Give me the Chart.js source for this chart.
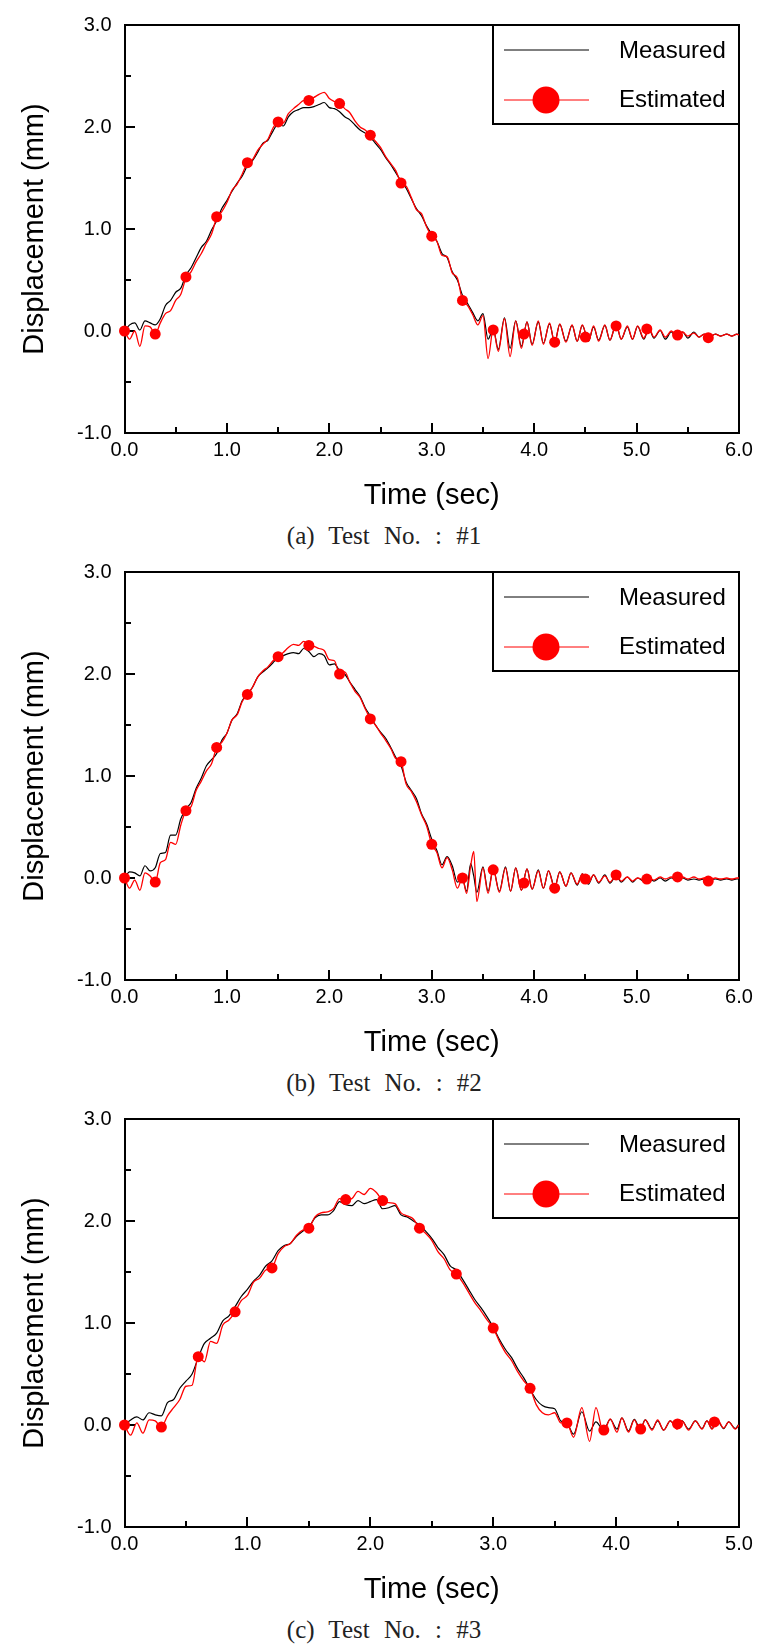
<!DOCTYPE html>
<html>
<head>
<meta charset="utf-8">
<script src="https://cdn.jsdelivr.net/npm/chart.js@4.4.1/dist/chart.umd.min.js"></script>
<style>
  html, body { margin: 0; padding: 0; background: #fff; }
  body { width: 779px; height: 1646px; position: relative; overflow: hidden; }
  .panel { position: absolute; left: 0; width: 779px; height: 547px; }
  .panel canvas { position: absolute; left: 0; top: 0; }
  .caption { position: absolute; left: 0; width: 768px; top: 523px; height: 26px; line-height: 26px;
             text-align: center; font-family: 'Liberation Serif', 'DejaVu Serif', serif; font-size: 25px;
             color: #222; word-spacing: 8px; white-space: pre; }
</style>
</head>
<body>
<div class="panel" style="top:0px"><canvas id="c1" width="779" height="515"></canvas><div class="caption">(a) Test No. : #1</div></div>
<div class="panel" style="top:547px"><canvas id="c2" width="779" height="515"></canvas><div class="caption">(b) Test No. : #2</div></div>
<div class="panel" style="top:1094px"><canvas id="c3" width="779" height="515"></canvas><div class="caption">(c) Test No. : #3</div></div>
<script>
// ---------------- DATA ----------------
const time1 = [0,0.05,0.1,0.15,0.2,0.25,0.3,0.35,0.4,0.45,0.5,0.55,0.6,0.65,0.7,0.75,0.8,0.85,0.9,0.95,
  1,1.05,1.1,1.15,1.2,1.25,1.3,1.35,1.4,1.45,1.5,1.55,1.6,1.65,1.7,1.75,1.8,1.85,1.9,1.95,
  2,2.05,2.1,2.15,2.2,2.25,2.3,2.35,2.4,2.45,2.5,2.55,2.6,2.65,2.7,2.75,2.8,2.85,2.9,2.95,
  3,3.05,3.1,3.15,3.2,3.25,3.3,3.35,3.4,3.45,3.5,3.55,
  3.6,3.65,3.71,3.765,3.82,3.875,3.93,3.98,
  4.04,4.09,4.15,4.2,4.25,4.31,4.37,4.42,4.47,4.53,4.58,4.63,4.69,4.74,4.8,4.85,4.91,4.96,
  5.01,5.07,5.12,5.17,5.23,5.28,5.34,5.39,5.45,5.5,5.56,5.61,5.66,5.71,5.77,5.82,5.88,5.93,5.98,6];
const measured1 = [0.00,0.06,0.08,0.01,0.10,0.08,0.06,0.12,0.25,0.30,
  0.38,0.42,0.55,0.62,0.72,0.82,0.88,0.99,1.08,1.20,
  1.28,1.37,1.45,1.52,1.62,1.67,1.75,1.84,1.87,1.96,
  2.03,2.01,2.10,2.15,2.17,2.19,2.19,2.20,2.22,2.24,
  2.19,2.18,2.15,2.10,2.07,2.02,1.97,1.94,1.90,1.84,
  1.78,1.70,1.63,1.55,1.47,1.40,1.30,1.20,1.13,1.03,
  0.95,0.88,0.76,0.72,0.58,0.50,0.35,0.27,0.18,0.10,
  0.17,-0.08,
  0.02,-0.18,0.13,-0.17,0.10,-0.15,0.09,-0.13,
  0.09,-0.12,0.07,-0.11,0.065,-0.10,0.055,-0.10,0.055,-0.10,0.04,-0.09,0.055,-0.09,0.065,-0.08,0.04,-0.08,
  0.045,-0.08,0.02,-0.07,0.005,-0.08,-0.01,-0.07,-0.01,-0.07,-0.01,-0.06,-0.03,-0.06,-0.03,-0.05,-0.03,-0.05,-0.03,-0.04];
const estimated1 = [0.00,-0.08,0.00,-0.15,0.05,0.04,-0.03,0.08,0.17,0.20,
  0.30,0.36,0.52,0.58,0.68,0.76,0.86,0.95,1.11,1.17,
  1.26,1.38,1.44,1.54,1.65,1.68,1.77,1.83,1.88,1.99,
  2.05,2.04,2.13,2.18,2.22,2.26,2.26,2.29,2.32,2.34,
  2.28,2.25,2.23,2.18,2.14,2.06,2.00,1.97,1.92,1.86,
  1.80,1.71,1.64,1.57,1.45,1.42,1.31,1.19,1.15,1.02,
  0.93,0.88,0.74,0.73,0.57,0.52,0.30,0.25,0.16,0.06,
  0.15,-0.27,
  0.02,-0.20,0.12,-0.25,0.10,-0.17,0.09,-0.14,
  0.10,-0.13,0.08,-0.12,0.07,-0.11,0.06,-0.10,0.06,-0.10,0.05,-0.10,0.06,-0.09,0.07,-0.08,0.05,-0.08,
  0.05,-0.07,0.03,-0.06,0.01,-0.06,0.00,-0.05,-0.01,-0.05,-0.02,-0.06,-0.03,-0.06,-0.03,-0.05,-0.03,-0.05,-0.03,-0.04];

const time2 = [0,0.05,0.1,0.15,0.2,0.25,0.3,0.35,0.4,0.45,0.5,0.55,0.6,0.65,0.7,0.75,0.8,0.85,0.9,0.95,
  1,1.05,1.1,1.15,1.2,1.25,1.3,1.35,1.4,1.45,1.5,1.55,1.6,1.65,1.7,1.75,1.8,1.85,1.9,1.95,
  2,2.05,2.1,2.15,2.2,2.25,2.3,2.35,2.4,2.45,2.5,2.55,2.6,2.65,2.7,2.75,2.8,2.85,2.9,2.95,
  3,3.05,3.1,3.15,3.2,3.25,3.3,
  3.34,3.38,3.41,3.44,3.5,3.55,3.6,3.66,3.72,3.77,3.82,3.875,3.93,3.98,
  4.04,4.09,4.14,4.2,4.25,4.31,4.36,4.42,4.47,4.53,4.58,4.63,4.69,4.74,4.8,4.85,4.91,4.96,
  5.01,5.07,5.12,5.17,5.23,5.28,5.34,5.39,5.45,5.5,5.56,5.61,5.66,5.71,5.77,5.82,5.88,5.93,5.98,6];
const measured2 = [0.00,0.06,0.05,0.02,0.12,0.07,0.10,0.24,0.25,0.42,
  0.42,0.58,0.68,0.74,0.88,0.98,1.10,1.16,1.22,1.35,
  1.42,1.55,1.61,1.74,1.80,1.87,1.97,2.02,2.06,2.11,
  2.16,2.18,2.20,2.21,2.20,2.25,2.22,2.17,2.20,2.18,
  2.09,2.10,2.03,2.00,1.92,1.85,1.78,1.67,1.59,1.50,
  1.43,1.37,1.28,1.18,1.10,0.94,0.86,0.78,0.63,0.53,
  0.38,0.27,0.13,0.21,0.12,-0.04,-0.01,
  -0.13,0.14,0.02,-0.14,0.11,-0.13,0.09,-0.13,0.11,-0.13,0.10,-0.12,0.09,-0.11,
  0.08,-0.10,0.07,-0.09,0.06,-0.08,0.05,-0.07,0.04,-0.06,0.03,-0.05,0.03,-0.05,0.02,-0.04,0.01,-0.04,
  0.00,-0.03,0.00,-0.03,0.00,-0.03,0.00,-0.02,0.00,-0.02,-0.01,-0.02,-0.01,-0.02,-0.01,-0.02,-0.01,-0.02,-0.01,-0.01];
const estimated2 = [0.00,-0.10,-0.02,-0.12,0.05,0.02,-0.04,0.15,0.18,0.35,
  0.33,0.52,0.66,0.70,0.86,0.95,1.05,1.12,1.28,1.33,
  1.42,1.55,1.60,1.73,1.80,1.87,1.97,2.03,2.07,2.13,
  2.17,2.21,2.26,2.29,2.28,2.32,2.28,2.27,2.25,2.23,
  2.14,2.13,2.00,2.02,1.92,1.83,1.77,1.66,1.56,1.50,
  1.42,1.35,1.27,1.17,1.14,0.92,0.85,0.75,0.62,0.51,
  0.33,0.25,0.10,0.20,0.08,-0.10,0.00,
  -0.15,0.12,0.26,-0.23,0.10,-0.15,0.09,-0.14,0.10,-0.13,0.10,-0.12,0.09,-0.11,
  0.07,-0.10,0.07,-0.10,0.06,-0.08,0.05,-0.06,0.04,-0.05,0.03,-0.04,0.02,-0.04,0.03,-0.03,0.01,-0.03,
  0.00,-0.02,0.00,-0.02,0.01,-0.01,0.01,-0.01,0.01,-0.01,0.01,-0.01,0.00,-0.02,0.00,-0.01,0.00,-0.01,0.00,0.00];

const time3 = [0,0.05,0.1,0.15,0.2,0.25,0.3,0.35,0.4,0.45,0.5,0.55,0.6,0.65,0.7,0.75,0.8,0.85,0.9,0.95,
  1,1.05,1.1,1.15,1.2,1.25,1.3,1.35,1.4,1.45,1.5,1.55,1.6,1.65,1.7,1.75,1.8,1.85,1.9,1.95,
  2,2.05,2.1,2.15,2.2,2.25,2.3,2.35,2.4,2.45,2.5,2.55,2.6,2.65,2.7,2.75,2.8,2.85,2.9,2.95,
  3,3.05,3.1,3.15,3.2,3.25,3.3,3.35,3.4,3.45,3.5,3.55,3.6,
  3.654,3.721,3.784,3.836,3.898,3.952,4.007,4.047,4.101,4.148,4.197,4.237,4.292,4.338,
  4.387,4.441,4.495,4.536,4.59,4.645,4.699,4.739,4.78,4.826,4.875,4.916,4.97,5];
const measured3 = [0.00,0.05,0.08,0.05,0.12,0.10,0.09,0.22,0.25,0.36,
  0.43,0.50,0.66,0.80,0.85,0.90,1.02,1.07,1.16,1.26,
  1.33,1.41,1.47,1.56,1.61,1.71,1.76,1.78,1.85,1.90,
  1.94,2.03,2.06,2.06,2.10,2.19,2.16,2.15,2.20,2.17,
  2.19,2.21,2.12,2.13,2.15,2.06,2.04,2.00,1.96,1.90,
  1.83,1.74,1.67,1.56,1.52,1.43,1.33,1.23,1.15,1.06,
  0.96,0.84,0.74,0.66,0.55,0.46,0.35,0.25,0.19,0.17,
  0.16,0.04,0.02,
  -0.09,0.13,-0.06,0.03,-0.05,0.055,-0.04,0.07,-0.06,0.055,-0.04,0.05,-0.04,0.04,
  -0.05,0.04,-0.03,0.04,-0.04,0.04,-0.035,0.04,-0.035,0.04,-0.035,0.03,-0.035,0.01];
const estimated3 = [0.00,-0.10,0.02,-0.08,0.05,0.04,-0.02,0.09,0.17,0.25,
  0.38,0.39,0.67,0.62,0.82,0.80,0.98,1.03,1.11,1.22,
  1.27,1.40,1.44,1.52,1.54,1.68,1.75,1.78,1.86,1.91,
  1.93,2.04,2.08,2.09,2.12,2.22,2.21,2.22,2.29,2.26,
  2.32,2.28,2.20,2.18,2.17,2.08,2.05,2.02,1.93,1.88,
  1.81,1.70,1.63,1.52,1.48,1.40,1.30,1.20,1.12,1.03,
  0.95,0.82,0.71,0.63,0.52,0.43,0.36,0.20,0.12,0.10,
  0.12,0.02,0.02,
  -0.12,0.17,-0.16,0.17,-0.08,0.06,-0.07,0.07,-0.07,0.05,-0.06,0.05,-0.05,0.05,
  -0.05,0.04,-0.04,0.04,-0.05,0.04,-0.04,0.04,-0.04,0.05,-0.03,0.03,-0.04,0.00];

// Estimated-series markers (every 0.3 s)
const markTime6 = [0,0.3,0.6,0.9,1.2,1.5,1.8,2.1,2.4,2.7,3.0,3.3,3.6,3.9,4.2,4.5,4.8,5.1,5.4,5.7];
const markTime5 = [0,0.3,0.6,0.9,1.2,1.5,1.8,2.1,2.4,2.7,3.0,3.3,3.6,3.9,4.2,4.5,4.8];
const markVal1 = [0.00,-0.03,0.53,1.12,1.65,2.05,2.26,2.23,1.92,1.45,0.93,0.30,0.01,-0.03,-0.11,-0.06,0.05,0.02,-0.04,-0.065];
const markVal2 = [0.00,-0.04,0.66,1.28,1.80,2.17,2.28,2.00,1.56,1.14,0.33,0.00,0.08,-0.05,-0.10,-0.01,0.03,-0.01,0.01,-0.03];
const markVal3 = [0.00,-0.02,0.67,1.11,1.54,1.93,2.21,2.20,1.93,1.48,0.95,0.36,0.02,-0.05,-0.04,0.01,0.03];

const xTitle = 'Time (sec)';
const yTitle = 'Displacement (mm)';
const seriesNames = ['Measured', 'Estimated'];

// ---------------- CHART ----------------
const SANS = "'Liberation Sans', Arial, sans-serif";

const framePlugin = {
  id: 'frameTicks',
  beforeDatasetsDraw(chart) {
    const { ctx, chartArea: a, scales } = chart;
    const L = Math.round(a.left), R = Math.round(a.right), T = Math.round(a.top), B = Math.round(a.bottom);
    ctx.save();
    ctx.strokeStyle = '#000';
    ctx.lineWidth = 2;
    ctx.beginPath();
    scales.x.ticks.forEach(t => {
      const px = Math.round(scales.x.getPixelForValue(t.value));
      const len = Number.isInteger(t.value) ? 10 : 6;
      ctx.moveTo(px, B); ctx.lineTo(px, B - len);
    });
    scales.y.ticks.forEach(t => {
      const py = Math.round(scales.y.getPixelForValue(t.value));
      const len = Number.isInteger(t.value) ? 10 : 6;
      ctx.moveTo(L, py); ctx.lineTo(L + len, py);
    });
    ctx.stroke();
    ctx.strokeRect(L, T, R - L, B - T);
    ctx.restore();
  },
  afterDraw(chart) {
    const { ctx, chartArea: a } = chart;
    const ds = chart.data.datasets;
    const r = Math.round(a.right), t = Math.round(a.top);
    const bx = r - 246, bw = 246, bh = 99;
    ctx.save();
    ctx.fillStyle = '#fff';
    ctx.fillRect(bx, t, bw, bh);
    ctx.strokeStyle = '#000';
    ctx.lineWidth = 2;
    ctx.strokeRect(bx, t, bw, bh);
    const rows = [t + 25, t + 74.5];
    ctx.lineWidth = 1;
    ctx.strokeStyle = ds[0].borderColor;
    ctx.beginPath(); ctx.moveTo(r - 235, rows[0]); ctx.lineTo(r - 150, rows[0]); ctx.stroke();
    ctx.strokeStyle = ds[1].borderColor;
    ctx.beginPath(); ctx.moveTo(r - 235, rows[1] + 0.5); ctx.lineTo(r - 150, rows[1] + 0.5); ctx.stroke();
    ctx.fillStyle = ds[1].borderColor;
    ctx.beginPath(); ctx.arc(r - 193, rows[1] + 0.5, 13.5, 0, Math.PI * 2); ctx.fill();
    ctx.fillStyle = '#000';
    ctx.font = '24px ' + SANS;
    ctx.textBaseline = 'middle';
    ctx.textAlign = 'left';
    ctx.fillText(ds[0].label, r - 120, rows[0] + 1);
    ctx.fillText(ds[1].label, r - 120, rows[1] + 1);
    ctx.restore();
  }
};

function makeChart(id, times, meas, est, mTimes, mVals, xMax) {
  const lineM = times.map((t, i) => ({ x: t, y: meas[i] }));
  const lineE = times.map((t, i) => ({ x: t, y: est[i] }));
  const marks = mTimes.map((t, i) => ({ x: t, y: mVals[i] }));
  new Chart(document.getElementById(id), {
    type: 'line',
    data: {
      datasets: [
        { label: seriesNames[0], data: lineM, borderColor: '#000000', borderWidth: 1.2,
          pointRadius: 0, cubicInterpolationMode: 'monotone', order: 2 },
        { label: seriesNames[1], data: lineE, borderColor: '#ff0000', borderWidth: 1.3,
          pointRadius: 0, cubicInterpolationMode: 'monotone', order: 1 },
        { label: seriesNames[1] + ' markers', data: marks, showLine: false, pointRadius: 5.5,
          pointBackgroundColor: '#ff0000', pointBorderColor: '#ff0000', pointBorderWidth: 0,
          borderColor: '#ff0000', clip: false, order: 0 }
      ]
    },
    options: {
      responsive: false,
      animation: false,
      devicePixelRatio: 1,
      layout: { padding: { top: 22.5, right: 40, left: 0, bottom: 0 } },
      plugins: { legend: { display: false }, tooltip: { enabled: false } },
      scales: {
        x: {
          type: 'linear', min: 0, max: xMax,
          grid: { display: false, drawTicks: false }, border: { display: false },
          ticks: { stepSize: 0.5, autoSkip: false, maxRotation: 0, padding: 5, color: '#000',
                   font: { family: SANS, size: 20 },
                   callback: v => Number.isInteger(v) ? v.toFixed(1) : '' },
          title: { display: true, text: xTitle, color: '#000', font: { family: SANS, size: 29 },
                   padding: { top: 0, bottom: 1.6 } },
          afterFit: s => { s.height = 82; }
        },
        y: {
          type: 'linear', min: -1, max: 3,
          grid: { display: false, drawTicks: false }, border: { display: false },
          ticks: { stepSize: 0.5, autoSkip: false, padding: 13, color: '#000',
                   font: { family: SANS, size: 20 },
                   callback: v => Number.isInteger(v) ? v.toFixed(1) : '' },
          title: { display: true, text: yTitle, color: '#000', font: { family: SANS, size: 29 },
                   padding: { top: 18, bottom: 0 } },
          afterFit: s => { s.width = 124.5; }
        }
      }
    },
    plugins: [framePlugin]
  });
}

makeChart('c1', time1, measured1, estimated1, markTime6, markVal1, 6);
makeChart('c2', time2, measured2, estimated2, markTime6, markVal2, 6);
makeChart('c3', time3, measured3, estimated3, markTime5, markVal3, 5);
</script>
</body>
</html>
